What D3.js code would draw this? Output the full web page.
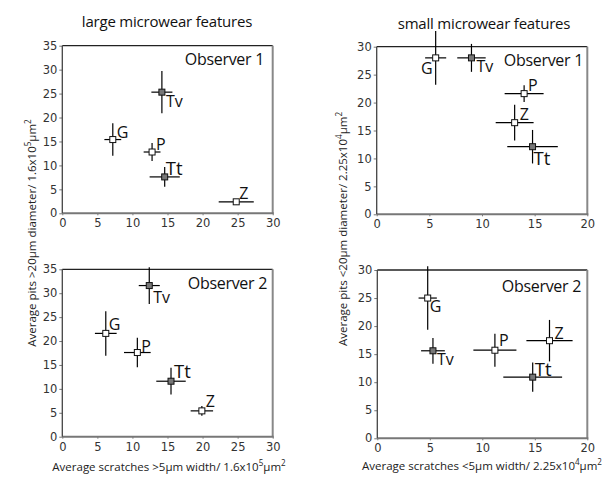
<!DOCTYPE html>
<html><head><meta charset="utf-8">
<script src="https://cdn.jsdelivr.net/npm/d3@7"></script>
<style>body{margin:0;background:#fff}svg{display:block}</style>
</head><body><svg id="c" width="612" height="490"></svg>
<script>
// ---- data ----
const taxa = ["G", "Tv", "P", "Tt", "Z"];
const filledTaxa = ["Tv", "Tt"];

// Panel 1: large features, Observer 1
const p1X = [7.2, 14.2, 12.8, 14.6, 24.8];
const p1Y = [15.4, 25.3, 12.8, 7.6, 2.4];
const p1Xerr = [1.2, 1.5, 1.2, 2.15, 2.5];
const p1Yerr = [3.4, 4.4, 1.9, 2.05, 0.6];
// Panel 2: small features, Observer 1
const p2X = [5.6, 9.0, 14.0, 14.8, 13.1];
const p2Y = [28.0, 28.0, 21.6, 12.1, 16.4];
const p2Xerr = [1.0, 1.35, 1.85, 2.4, 1.8];
const p2Yerr = [4.8, 2.5, 1.5, 3.0, 3.2];
// Panel 3: large features, Observer 2
const p3X = [6.2, 12.4, 10.7, 15.5, 19.9];
const p3Y = [21.6, 31.6, 17.6, 11.6, 5.4];
const p3Xerr = [1.55, 1.5, 1.9, 2.1, 1.6];
const p3Yerr = [4.65, 3.85, 3.1, 2.8, 1.0];
// Panel 4: small features, Observer 2
const p4X = [4.8, 5.3, 11.2, 14.8, 16.4];
const p4Y = [25.0, 15.6, 15.7, 10.9, 17.4];
const p4Xerr = [0.87, 1.13, 2.05, 2.8, 2.2];
const p4Yerr = [5.65, 2.3, 2.95, 2.6, 3.7];

const largeXTicks = [0, 5, 10, 15, 20, 25, 30];
const largeYTicks = [0, 5, 10, 15, 20, 25, 30, 35];
const smallXTicks = [0, 5, 10, 15, 20];
const smallYTicks = [0, 5, 10, 15, 20, 25, 30];

const titleLarge = "large microwear features";
const titleSmall = "small microwear features";
const obs1 = "Observer 1", obs2 = "Observer 2";

// ---- layout ----
const svg = d3.select("#c");
const FONT = "'Open Sans', 'Noto Sans', sans-serif";
const TICKFONT = "'DejaVu Sans', Verdana, sans-serif";

// label placement (dx, dy, anchor) per taxon, per panel
const labPos = [
  [[4,-2,"start"],[4,15,"start"],[4,-2,"start"],[1,-2,"start"],[3,-3,"start"]],
  [[-3,16,"end"],[5,14,"start"],[4,-3,"start"],[1,18,"start"],[5,-3,"start"]],
  [[3,-3,"start"],[4,17,"start"],[4,-1,"start"],[3,-3,"start"],[4,-4,"start"]],
  [[2,14,"start"],[4,14,"start"],[4,-4,"start"],[2,-1,"start"],[5,-2,"start"]]
];

const panels = [
  {x0:62.3,x1:272.7,y0:45.7,y1:213.3, xd:[0,30], yd:[0,35], xt:largeXTicks, yt:largeYTicks,
   X:p1X,Y:p1Y,XE:p1Xerr,YE:p1Yerr, obs:obs1, ox:264, oy:65},
  {x0:376.7,x1:587.3,y0:46.7,y1:214.3, xd:[0,20], yd:[0,30], xt:smallXTicks, yt:smallYTicks,
   X:p2X,Y:p2Y,XE:p2Xerr,YE:p2Yerr, obs:obs1, ox:583, oy:66},
  {x0:62.3,x1:272.7,y0:269.3,y1:436.7, xd:[0,30], yd:[0,35], xt:largeXTicks, yt:largeYTicks,
   X:p3X,Y:p3Y,XE:p3Xerr,YE:p3Yerr, obs:obs2, ox:267, oy:288.5},
  {x0:377.3,x1:587.3,y0:270,y1:438.3, xd:[0,20], yd:[0,30], xt:smallXTicks, yt:smallYTicks,
   X:p4X,Y:p4Y,XE:p4Xerr,YE:p4Yerr, obs:obs2, ox:581, oy:292}
];

panels.forEach((p, pi) => {
  const x = d3.scaleLinear().domain(p.xd).range([p.x0, p.x1]);
  const y = d3.scaleLinear().domain(p.yd).range([p.y1, p.y0]);
  const g = svg.append("g");

  // axes
  const ax = g.append("g").attr("transform", `translate(0,${p.y1})`)
    .call(d3.axisBottom(x).tickValues(p.xt).tickSize(2).tickPadding(4));
  const ay = g.append("g").attr("transform", `translate(${p.x0},0)`)
    .call(d3.axisLeft(y).tickValues(p.yt).tickSize(3).tickPadding(2));
  [ax, ay].forEach(a => {
    a.select(".domain").remove();
    a.selectAll(".tick line").attr("stroke", "#777").attr("stroke-width", 1);
    a.selectAll("text").attr("font-family", TICKFONT).attr("font-size", 11.5).attr("fill", "#333");
  });

  // frame
  g.append("line").attr("x1", p.x0).attr("x2", p.x1).attr("y1", p.y0).attr("y2", p.y0)
    .attr("stroke", "#222").attr("stroke-width", 1.3);
  g.append("line").attr("x1", p.x1).attr("x2", p.x1).attr("y1", p.y0).attr("y2", p.y1)
    .attr("stroke", "#888").attr("stroke-width", 2);
  g.append("line").attr("x1", p.x0).attr("x2", p.x1 + 1).attr("y1", p.y1).attr("y2", p.y1)
    .attr("stroke", "#777").attr("stroke-width", 2);
  g.append("line").attr("x1", p.x0).attr("x2", p.x0).attr("y1", p.y0).attr("y2", p.y1)
    .attr("stroke", "#444").attr("stroke-width", 1.3);

  // observer label
  g.append("text").attr("x", p.ox).attr("y", p.oy).attr("text-anchor", "end")
    .attr("font-family", FONT).attr("font-size", 16).attr("letter-spacing", -0.3)
    .attr("fill", "#111").text(p.obs);

  const rows = taxa.map((t, i) => ({t, x: p.X[i], y: p.Y[i], xe: p.XE[i], ye: p.YE[i], lp: labPos[pi][i]}));

  // error bars
  g.selectAll(".xe").data(rows).join("line")
    .attr("x1", d => x(d.x - d.xe)).attr("x2", d => x(d.x + d.xe))
    .attr("y1", d => y(d.y)).attr("y2", d => y(d.y))
    .attr("stroke", "#000").attr("stroke-width", 1.2);
  g.selectAll(".ye").data(rows).join("line")
    .attr("x1", d => x(d.x)).attr("x2", d => x(d.x))
    .attr("y1", d => y(d.y - d.ye)).attr("y2", d => y(d.y + d.ye))
    .attr("stroke", "#000").attr("stroke-width", 1.2);
  // markers
  g.selectAll(".m").data(rows).join("rect")
    .attr("x", d => x(d.x) - 3).attr("y", d => y(d.y) - 3)
    .attr("width", 6).attr("height", 6)
    .attr("fill", d => filledTaxa.includes(d.t) ? "#777" : "#fff")
    .attr("stroke", "#111").attr("stroke-width", 1);
  // labels
  g.selectAll(".l").data(rows).join("text")
    .attr("x", d => x(d.x) + d.lp[0]).attr("y", d => y(d.y) + d.lp[1])
    .attr("text-anchor", d => d.lp[2])
    .attr("font-family", FONT).attr("font-size", d => d.t === "Tt" ? 18.5 : 16)
    .attr("fill", "#111").text(d => d.t);
});

// titles
svg.append("text").attr("x", 167).attr("y", 27).attr("text-anchor", "middle")
  .attr("font-family", FONT).attr("font-size", 15).attr("letter-spacing", -0.2).attr("fill", "#111").text(titleLarge);
svg.append("text").attr("x", 484).attr("y", 29).attr("text-anchor", "middle")
  .attr("font-family", FONT).attr("font-size", 15).attr("letter-spacing", -0.2).attr("fill", "#111").text(titleSmall);

// axis titles
function axisTitle(sel, pre, exp, mid, exp2) {
  sel.append("tspan").text(pre);
  sel.append("tspan").attr("baseline-shift", "super").attr("font-size", "70%").text(exp);
  sel.append("tspan").text(mid);
  sel.append("tspan").attr("baseline-shift", "super").attr("font-size", "70%").text(exp2);
}
const xl1 = svg.append("text").attr("x", 169).attr("y", 470.5).attr("text-anchor", "middle")
  .attr("font-family", FONT).attr("font-size", 11.5).attr("fill", "#222");
axisTitle(xl1, "Average scratches >5µm width/ 1.6x10", "5", "µm", "2");
const xl2 = svg.append("text").attr("x", 482).attr("y", 470).attr("text-anchor", "middle")
  .attr("font-family", FONT).attr("font-size", 11.5).attr("fill", "#222");
axisTitle(xl2, "Average scratches <5µm width/ 2.25x10", "4", "µm", "2");
const yl1 = svg.append("text").attr("transform", "translate(36,233) rotate(-90)").attr("text-anchor", "middle")
  .attr("font-family", FONT).attr("font-size", 11.5).attr("fill", "#222");
axisTitle(yl1, "Average pits >20µm diameter/ 1.6x10", "5", "µm", "2");
const yl2 = svg.append("text").attr("transform", "translate(347,229) rotate(-90)").attr("text-anchor", "middle")
  .attr("font-family", FONT).attr("font-size", 11.5).attr("fill", "#222");
axisTitle(yl2, "Average pits <20µm diameter/ 2.25x10", "4", "µm", "2");
</script></body></html>
